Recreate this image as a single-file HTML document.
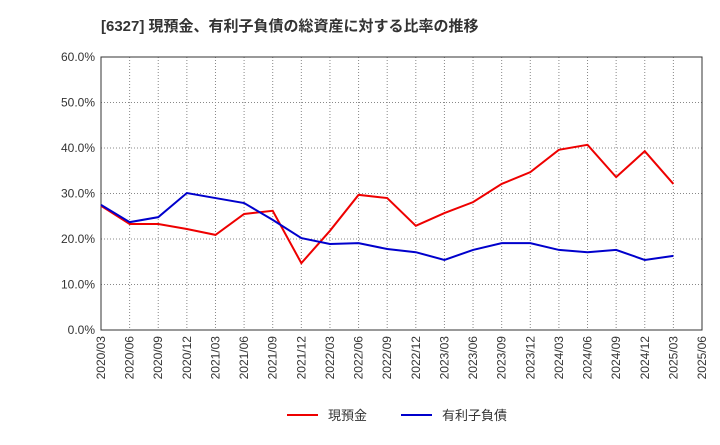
<!DOCTYPE html>
<html><head><meta charset="utf-8"><style>
body{margin:0;background:#fff;font-family:"Liberation Sans","Noto Sans CJK JP",sans-serif;}
svg text{font-family:"Liberation Sans","Noto Sans CJK JP",sans-serif;}
</style></head><body>
<svg id="c" width="720" height="440" xmlns="http://www.w3.org/2000/svg">
<text x="101" y="31" font-size="15" font-weight="bold" fill="#333">[6327]  現預金、有利子負債の総資産に対する比率の推移</text>
<g id="grid"></g><g id="axes"></g><g id="series"></g>
<g>
<line x1="287" y1="415" x2="318" y2="415" stroke="#e00" stroke-width="2"/>
<text x="328" y="420" font-size="13" fill="#333">現預金</text>
<line x1="401" y1="415" x2="432" y2="415" stroke="#00c" stroke-width="2"/>
<text x="442" y="420" font-size="13" fill="#333">有利子負債</text>
</g>
</svg>
<script>
const categories=["2020/03","2020/06","2020/09","2020/12","2021/03","2021/06","2021/09","2021/12","2022/03","2022/06","2022/09","2022/12","2023/03","2023/06","2023/09","2023/12","2024/03","2024/06","2024/09","2024/12","2025/03","2025/06"];
const cashValues=[27.3,23.3,23.3,22.2,20.9,25.5,26.2,14.7,21.8,29.7,29.0,22.9,25.7,28.1,32.1,34.7,39.6,40.7,33.6,39.3,32.1];
const debtValues=[27.5,23.7,24.8,30.1,29.0,27.9,24.2,20.2,18.9,19.1,17.8,17.1,15.4,17.6,19.1,19.1,17.6,17.1,17.6,15.4,16.3];
const yTicks=[0,10,20,30,40,50,60];
const NS="http://www.w3.org/2000/svg";
const L=101,R=702,T=57,B=330;
const x=i=>L+(R-L)*i/(categories.length-1);
const y=v=>B-(B-T)*v/60;
function mk(t,a,p){const e=document.createElementNS(NS,t);for(const k in a)e.setAttribute(k,a[k]);p.appendChild(e);return e;}
const grid=document.getElementById('grid'),axes=document.getElementById('axes'),ser=document.getElementById('series');
yTicks.forEach(v=>{
 const g=mk('line',{x1:L,x2:R,y1:y(v),y2:y(v),stroke:'#888','stroke-dasharray':'1,2','stroke-width':1},grid);
 
 
 const t=mk('text',{x:L-6,y:y(v)+4,'text-anchor':'end','font-size':12,fill:'#333'},axes);
 t.textContent=v.toFixed(1)+'%';
 
 
});
categories.forEach((c,i)=>{
 const g=mk('line',{x1:x(i),x2:x(i),y1:T,y2:B,stroke:'#888','stroke-dasharray':'1,2','stroke-width':1},grid);
 
 
 const t=mk('text',{transform:`translate(${x(i)+4},${B+6}) rotate(-90)`,'text-anchor':'end','font-size':12,fill:'#333'},axes);
 t.textContent=c;
 
 
});
const fr=mk('rect',{x:L,y:T,width:R-L,height:B-T,fill:'none',stroke:'#333','stroke-width':1},axes);


const p1=mk('polyline',{points:cashValues.map((v,i)=>x(i)+','+y(v)).join(' '),fill:'none',stroke:'#e00','stroke-width':2},ser);


const p2=mk('polyline',{points:debtValues.map((v,i)=>x(i)+','+y(v)).join(' '),fill:'none',stroke:'#00c','stroke-width':2},ser);


</script>
</body></html>
